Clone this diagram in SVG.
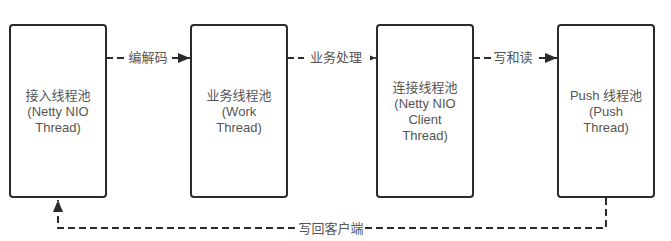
<svg xmlns="http://www.w3.org/2000/svg" width="671" height="241" viewBox="0 0 671 241">
<style>
.box{fill:#fff;stroke:#2b2b2b;stroke-width:2}
.t{font-family:"Liberation Sans","Noto Sans CJK SC",sans-serif;font-size:13px;fill:#555;text-anchor:middle;dominant-baseline:central}
.c{fill:none;stroke:#2b2b2b;stroke-width:2;stroke-dasharray:7 4}
.lbl{fill:#fff}
</style>
<defs>
<marker id="ah" markerWidth="12" markerHeight="10" refX="12" refY="5" orient="auto" markerUnits="userSpaceOnUse">
<path d="M0,0 L12,5 L0,10 z" fill="#2b2b2b"/>
</marker>
</defs>
<rect width="671" height="241" fill="#fff"/>
<g id="connectors">
<path class="c" d="M106,58 H190" marker-end="url(#ah)"/>
<path class="c" d="M287,58 H376" marker-end="url(#ah)"/>
<path class="c" d="M473,58 H557" marker-end="url(#ah)"/>
<path class="c" d="M606,198 V228 H58 V200" marker-end="url(#ah)"/>
<rect class="lbl" x="127" y="49" width="42" height="17"/>
<text class="t" x="148" y="57">编解码</text>
<rect class="lbl" x="304" y="49" width="66" height="17"/>
<text class="t" x="336" y="57">业务处理</text>
<rect class="lbl" x="491" y="49" width="44" height="17"/>
<text class="t" x="513" y="57">写和读</text>
<rect class="lbl" x="297" y="220" width="68" height="17"/>
<text class="t" x="331" y="228">写回客户端</text>
</g>
<g id="node1">
<rect class="box" x="10" y="25" width="96" height="172" rx="3"/>
<text class="t" x="58" y="95">接入线程池</text>
<text class="t" x="58" y="111">(Netty NIO</text>
<text class="t" x="58" y="127">Thread)</text>
</g>
<g id="node2">
<rect class="box" x="191" y="25" width="96" height="172" rx="3"/>
<text class="t" x="239" y="95">业务线程池</text>
<text class="t" x="239" y="111">(Work</text>
<text class="t" x="239" y="127">Thread)</text>
</g>
<g id="node3">
<rect class="box" x="377" y="25" width="96" height="172" rx="3"/>
<text class="t" x="425" y="87">连接线程池</text>
<text class="t" x="425" y="103">(Netty NIO</text>
<text class="t" x="425" y="119">Client</text>
<text class="t" x="425" y="135">Thread)</text>
</g>
<g id="node4">
<rect class="box" x="558" y="25" width="96" height="172" rx="3"/>
<text class="t" x="606" y="95">Push 线程池</text>
<text class="t" x="606" y="111">(Push</text>
<text class="t" x="606" y="127">Thread)</text>
</g>
</svg>
